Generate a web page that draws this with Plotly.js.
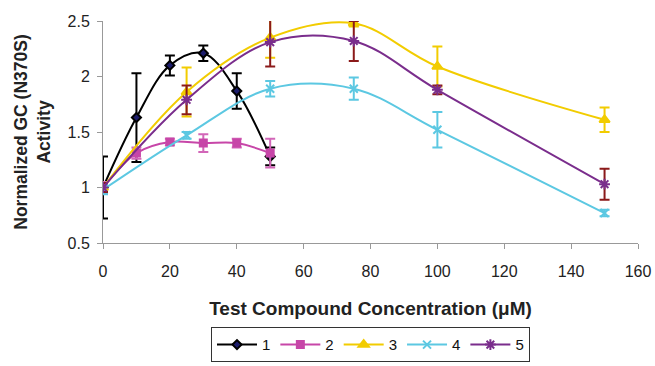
<!DOCTYPE html>
<html><head><meta charset="utf-8">
<script src="https://cdn.plot.ly/plotly-3.0.1.min.js"></script>
<style>html,body{margin:0;padding:0;background:#fff}#c{width:655px;height:366px}</style>
</head><body><div id="c"></div>
<script>
const x12 = [0, 10, 20, 30, 40, 50];
const x345 = [0, 25, 50, 75, 100, 150];
const s1 = [1.0, 1.63, 2.1, 2.21, 1.87, 1.28];
const e1 = [0.28, 0.4, 0.09, 0.07, 0.16, 0.08];
const s2 = [1.0, 1.31, 1.41, 1.4, 1.4, 1.31];
const e2 = [0.05, 0.05, 0.03, 0.08, 0.04, 0.13];
const s3 = [1.0, 1.86, 2.35, 2.48, 2.09, 1.61];
const e3 = [0.04, 0.22, 0.18, 0.03, 0.18, 0.11];
const s4 = [0.98, 1.47, 1.89, 1.89, 1.52, 0.77];
const e4 = [0.04, 0.03, 0.07, 0.1, 0.16, 0.03];
const s5 = [1.0, 1.79, 2.31, 2.32, 1.88, 1.03];
const e5 = [0.04, 0.13, 0.22, 0.18, 0.04, 0.14];
const names = ['1', '2', '3', '4', '5'];

function tr(x, y, e, name, color, ecolor, symbol, msize, mcolor, mline) {
  return {
    x: x, y: y, name: name, type: 'scatter', mode: 'lines+markers',
    line: {color: color, width: 2, shape: 'spline', smoothing: 1},
    marker: {symbol: symbol, size: msize, color: mcolor, line: {color: mline, width: 2}},
    error_y: {type: 'data', array: e, visible: true, color: ecolor, thickness: 2, width: 5}
  };
}
const data = [
  tr(x12, s1, e1, names[0], '#000000', '#000000', 'diamond', 7, '#1c1c6b', '#000000'),
  tr(x12, s2, e2, names[1], '#c746a8', '#d266b8', 'square', 7, '#c746a8', '#c746a8'),
  tr(x345, s3, e3, names[2], '#f2cc00', '#f2cc00', 'triangle-up', 9, '#f2cc00', '#f2cc00'),
  tr(x345, s4, e4, names[3], '#5cc8e2', '#5cc8e2', 'x-thin-open', 8, '#5cc8e2', '#5cc8e2'),
  tr(x345, s5, e5, names[4], '#7a2d8c', '#8b1a1a', 'asterisk-open', 9, '#7a2d8c', '#7a2d8c')
];
const layout = {
  width: 655, height: 366,
  margin: {l: 103, r: 17, t: 21, b: 123, autoexpand: false},
  paper_bgcolor: '#fff', plot_bgcolor: '#fff',
  font: {family: 'Liberation Sans, Arial, sans-serif', color: '#222', size: 16},
  showlegend: true,
  legend: {orientation: 'h', x: 0.5, xanchor: 'center', y: -0.38, yanchor: 'top',
    bordercolor: '#333', borderwidth: 1, font: {size: 15, color: '#111'},
    itemwidth: 40, tracegroupgap: 0},
  xaxis: {range: [0, 160], dtick: 20, showgrid: false, zeroline: false,
    showline: true, linecolor: '#999', linewidth: 1, ticks: 'outside', tickcolor: '#999', ticklen: 5,
    ticklabelstandoff: 9,
    tickfont: {size: 16, color: '#222'},
    title: {text: '<b>Test Compound Concentration (μM)</b>', font: {size: 19, color: '#222'}, standoff: 22}},
  yaxis: {range: [0.5, 2.5], dtick: 0.5, showgrid: false, zeroline: false,
    showline: true, linecolor: '#999', linewidth: 1, ticks: 'outside', tickcolor: '#999', ticklen: 5,
    ticklabelstandoff: 4,
    tickfont: {size: 16, color: '#222'},
    title: {text: '<b>Normalized GC (N370S)<br>Activity</b>', font: {size: 17.5, color: '#222'}, standoff: 12}}
};
Plotly.newPlot('c', data, layout, {displayModeBar: false});
</script></body></html>
